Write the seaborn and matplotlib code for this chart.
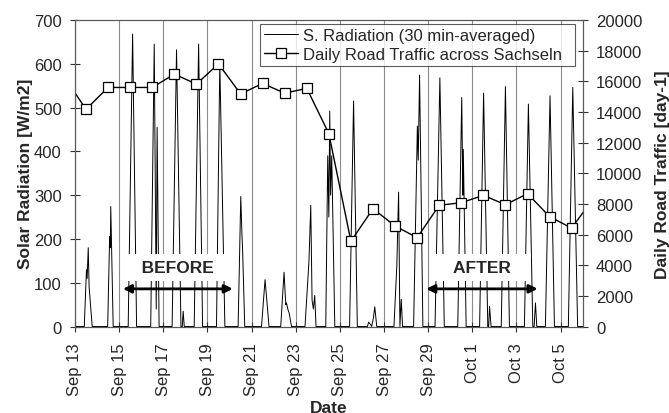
import numpy as np
import pandas as pd
import matplotlib
matplotlib.use("Agg")
import matplotlib.pyplot as plt
import seaborn as sns

# solar radiation, 30 min averages (day of September, W/m2); Oct 1 = day 31
rad_day = [13.00, 13.42, 13.52, 13.55, 13.60, 13.64, 13.78,
           14.48, 14.57, 14.60, 14.62, 14.73,
           15.41, 15.61, 15.79,
           16.43, 16.59, 16.68, 16.72, 16.81,
           17.40, 17.60, 17.80, 17.86, 17.90, 17.95,
           18.40, 18.60, 18.78,
           19.41, 19.56, 19.79,
           20.39, 20.51, 20.56, 20.59, 20.69,
           21.45, 21.61, 21.79,
           22.32, 22.47, 22.55, 22.58, 22.64, 22.70, 22.81,
           23.42, 23.60, 23.68, 23.74, 23.80, 23.86, 23.92,
           24.36, 24.45, 24.50, 24.54, 24.58, 24.63, 24.77,
           25.44, 25.62, 25.79,
           26.25, 26.30, 26.38, 26.44, 26.52, 26.58, 26.67,
           27.45, 27.58, 27.66, 27.72, 27.78, 27.84,
           28.34, 28.51, 28.55, 28.61, 28.76,
           29.31, 29.53, 29.73,
           30.34, 30.52, 30.57, 30.59, 30.72,
           31.33, 31.51, 31.70, 31.74, 31.78, 31.85,
           32.31, 32.50, 32.68,
           33.36, 33.54, 33.74, 33.80, 33.86, 33.92,
           34.31, 34.52, 34.72,
           35.35, 35.55, 35.77, 36.00]
rad_wm2 = [0, 0, 130, 110, 180, 90, 0,
           0, 206, 180, 274, 0,
           0, 668, 0,
           0, 645, 40, 455, 0,
           0, 632, 0, 0, 35, 0,
           0, 645, 0,
           0, 603, 0,
           0, 297, 215, 180, 0,
           0, 107, 0,
           0, 124, 50, 54, 40, 31, 0,
           0, 150, 277, 60, 40, 71, 0,
           0, 390, 250, 492, 300, 390, 0,
           0, 515, 0,
           0, 10, 5, 0, 20, 45, 0,
           0, 140, 307, 0, 62, 0,
           0, 458, 380, 574, 0,
           0, 568, 0,
           0, 523, 300, 405, 0,
           0, 533, 0, 0, 46, 0,
           0, 548, 0,
           0, 508, 0, 0, 54, 0,
           0, 527, 0,
           0, 546, 0, 0]

# daily road traffic, plotted at noon (day of September)
traffic_day = [12.5, 13.5, 14.5, 15.5, 16.5, 17.5, 18.5, 19.5, 20.5, 21.5,
               22.5, 23.5, 24.5, 25.5, 26.5, 27.5, 28.5, 29.5, 30.5, 31.5,
               32.5, 33.5, 34.5, 35.5, 36.5]
traffic = [16300, 14180, 15600, 15600, 15600, 16470, 15820, 17140, 15180, 15860,
           15230, 15540, 12590, 5560, 7690, 6560, 5800, 7910, 8080, 8560,
           7950, 8670, 7170, 6420, 8400]

tick_labels = ["Sep 13", "Sep 15", "Sep 17", "Sep 19", "Sep 21", "Sep 23",
               "Sep 25", "Sep 27", "Sep 29", "Oct 1", "Oct 3", "Oct 5"]

base = pd.Timestamp("1998-09-01")


def to_time(days):
    return base + pd.to_timedelta(np.asarray(days) - 1, unit="D")


rad = pd.DataFrame({"time": to_time(rad_day), "rad": rad_wm2})
trf = pd.DataFrame({"time": to_time(traffic_day), "traffic": traffic})

sns.set_style("white")
plt.rcParams["font.family"] = ["Liberation Sans", "DejaVu Sans"]

fig = plt.figure(figsize=(6.69, 4.14), dpi=100)
ax = fig.add_axes([0.1121, 0.2089, 0.7589, 0.7403])
ax2 = ax.twinx()

sns.lineplot(data=rad, x="time", y="rad", ax=ax, color="black", lw=0.7,
             estimator=None, sort=False, legend=False)
sns.lineplot(data=trf, x="time", y="traffic", ax=ax2, color="black", lw=1.0,
             estimator=None, legend=False, marker="s", markersize=7,
             markerfacecolor="white", markeredgecolor="black", markeredgewidth=0.9)

ax.set_xlim(to_time(13.0), to_time(36.0))
ax.set_ylim(0, 700)
ax2.set_ylim(0, 20000)
ax.set_yticks(range(0, 701, 100))
ax2.set_yticks(range(0, 20001, 2000))
ticks = pd.to_datetime([t + " 1998" for t in tick_labels], format="%b %d %Y")
ax.set_xticks(ticks)
ax.set_xticklabels(tick_labels, rotation=90)

ax.grid(axis="x", color="0.55", lw=0.8)
ax.grid(axis="y", visible=False)
ax2.grid(False)

for a in (ax, ax2):
    a.tick_params(direction="inout", length=7, width=0.8, labelsize=12, pad=6,
                  color="0.2")
    for s in a.spines.values():
        s.set_color("0.35")
        s.set_linewidth(0.8)
ax.tick_params(axis="x", pad=8, bottom=True)
ax.tick_params(axis="y", left=True)
ax2.tick_params(axis="y", right=True)

ax.set_xlabel("Date", fontsize=12.5, fontweight="bold", labelpad=3)
ax.set_ylabel("Solar Radiation [W/m2]", fontsize=12.5, fontweight="bold", labelpad=1)
ax2.set_ylabel("Daily Road Traffic [day-1]", fontsize=12.5, fontweight="bold", labelpad=9)

# before / after periods
for name, start, end in [("BEFORE", 15.17, 20.15), ("AFTER", 28.91, 33.96)]:
    ax.annotate("", xy=(to_time(end), 86), xytext=(to_time(start), 86),
                arrowprops=dict(arrowstyle="<|-|>", color="black", lw=2,
                                mutation_scale=12, shrinkA=0, shrinkB=0),
                zorder=6)
    ax.text(to_time((start + end) / 2), 135, "   " + name + "   ", ha="center",
            va="center", fontsize=12.5, fontweight="bold", zorder=5,
            bbox=dict(boxstyle="square,pad=0.35", fc="white", ec="none"))

handles = [ax.get_lines()[0], ax2.get_lines()[0]]
leg = ax2.legend(handles, ["S. Radiation (30 min-averaged)  ",
                           "Daily Road Traffic across Sachseln  "],
                 loc="upper right", bbox_to_anchor=(0.985, 0.987),
                 fontsize=12, frameon=True, fancybox=False,
                 borderpad=0.25, labelspacing=0.2, handlelength=2.0,
                 handletextpad=0.3, borderaxespad=0)
leg.get_frame().set_edgecolor("0.2")
leg.get_frame().set_linewidth(0.8)

fig.savefig("out.png", dpi=100)
